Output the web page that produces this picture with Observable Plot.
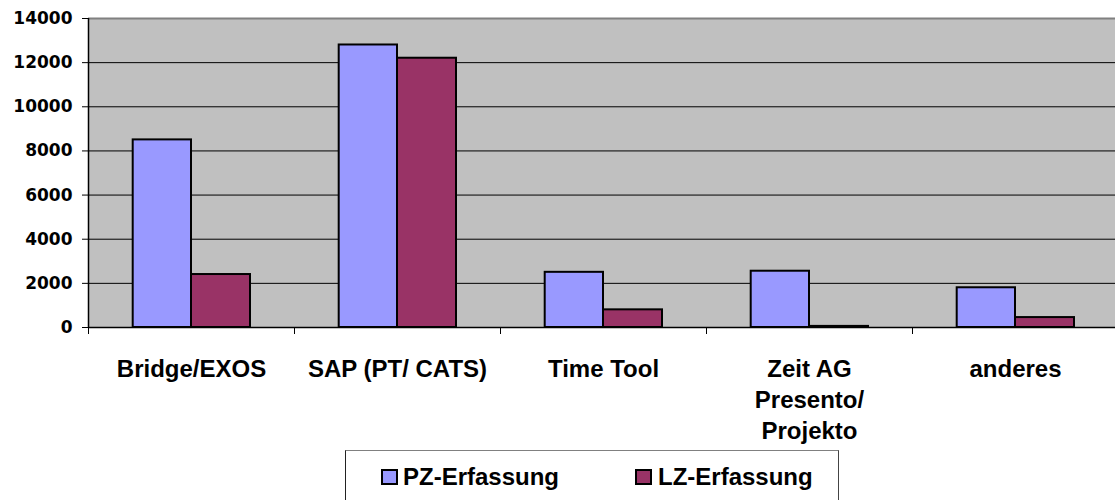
<!DOCTYPE html>
<html>
<head>
<meta charset="utf-8">
<script src="https://cdn.jsdelivr.net/npm/d3@7"></script>
<script src="https://cdn.jsdelivr.net/npm/@observablehq/plot@0.6"></script>
<style>
  html, body { margin: 0; padding: 0; background: #fff; }
  #chart { position: relative; width: 1115px; height: 500px; overflow: hidden; }
  #chart svg { position: absolute; left: 0; top: 0; overflow: visible; }
  #legend {
    position: absolute; left: 345px; top: 450px; width: 494px; height: 70px;
    box-sizing: border-box;
    border-top: 1.5px solid #808080; border-left: 1.5px solid #222; border-right: 1.5px solid #444;
    font-family: "Liberation Sans", Arial, sans-serif; font-weight: bold; font-size: 24px; color: #000;
  }
  #legend .sw { position: absolute; top: 18px; width: 17px; height: 16px; box-sizing: border-box; border: 2px solid #000; }
  #legend .lb { position: absolute; top: 14px; line-height: 24px; white-space: nowrap; }
</style>
</head>
<body>
<div id="chart"></div>
<script>
// ---- data ----
const categories = ["Bridge/EXOS", "SAP (PT/ CATS)", "Time Tool", "Zeit AG Presento/ Projekto", "anderes"];
const tickLabels = ["Bridge/EXOS", "SAP (PT/ CATS)", "Time Tool", "Zeit AG\nPresento/\nProjekto", "anderes"];
const seriesNames = ["PZ-Erfassung", "LZ-Erfassung"];
const pzValues = [8500, 12800, 2500, 2550, 1800];
const lzValues = [2400, 12200, 800, 50, 450];
const yTicks = [0, 2000, 4000, 6000, 8000, 10000, 12000, 14000];
const colors = ["#9999FF", "#993366"];

const rows = categories.map((c, i) => ({category: c, PZ: pzValues[i], LZ: lzValues[i]}));
const step = 206;

const svg = Plot.plot({
  width: 1115,
  height: 450,
  marginLeft: 88,
  marginRight: 0,
  marginTop: 18,
  marginBottom: 123,
  style: {fontFamily: "Liberation Sans", fontWeight: "bold", color: "#000", background: "transparent", overflow: "visible"},
  x: {domain: categories, range: [88, 88 + step * categories.length], padding: 0},
  y: {domain: [0, 14000]},
  marks: [
    Plot.frame({fill: "#C0C0C0", stroke: null}),
    Plot.ruleY(yTicks.filter(v => v > 0 && v < 14000), {stroke: "#000", strokeWidth: 1}),
    Plot.ruleY([14000], {stroke: "#808080", strokeWidth: 2}),
    Plot.barY(rows, {x: "category", y: "PZ", fill: colors[0], stroke: "#000", strokeWidth: 2, insetLeft: 44.7, insetRight: 103}),
    Plot.barY(rows, {x: "category", y: "LZ", fill: colors[1], stroke: "#000", strokeWidth: 2, insetLeft: 103, insetRight: 44}),
    Plot.ruleY([0], {stroke: "#000", strokeWidth: 1.5}),
    // category boundary ticks below the axis
    Plot.ruleX(categories, {x: d => d, dx: -step / 2, y1: 0, y2: 0, insetBottom: -7, stroke: "#000", strokeWidth: 1}),
    // left axis line
    Plot.ruleX(categories.slice(0, 1), {x: d => d, dx: -step / 2, y1: 0, y2: 14000, stroke: "#000", strokeWidth: 1.5}),
    Plot.axisY(yTicks, {tickSize: 6, tickPadding: 10, fontSize: 17, fontFamily: "DejaVu Sans", fontWeight: "bold", tickFormat: "d", label: null, stroke: "#000"}),
    Plot.axisX({tickSize: 0, tickPadding: 27, fontSize: 24, fontFamily: "Liberation Sans", fontWeight: "bold", lineHeight: 1.3, label: null,
      tickFormat: d => tickLabels[categories.indexOf(d)]})
  ]
});
const chart = document.getElementById("chart");
chart.appendChild(svg);

// legend below the plot
const legend = document.createElement("div");
legend.id = "legend";
const positions = [[35, 57], [289, 312]];
seriesNames.forEach((name, i) => {
  const sw = document.createElement("div");
  sw.className = "sw";
  sw.style.left = positions[i][0] + "px";
  sw.style.background = colors[i];
  const lb = document.createElement("div");
  lb.className = "lb";
  lb.style.left = positions[i][1] + "px";
  lb.textContent = name;
  legend.appendChild(sw);
  legend.appendChild(lb);
});
chart.appendChild(legend);
</script>
</body>
</html>
